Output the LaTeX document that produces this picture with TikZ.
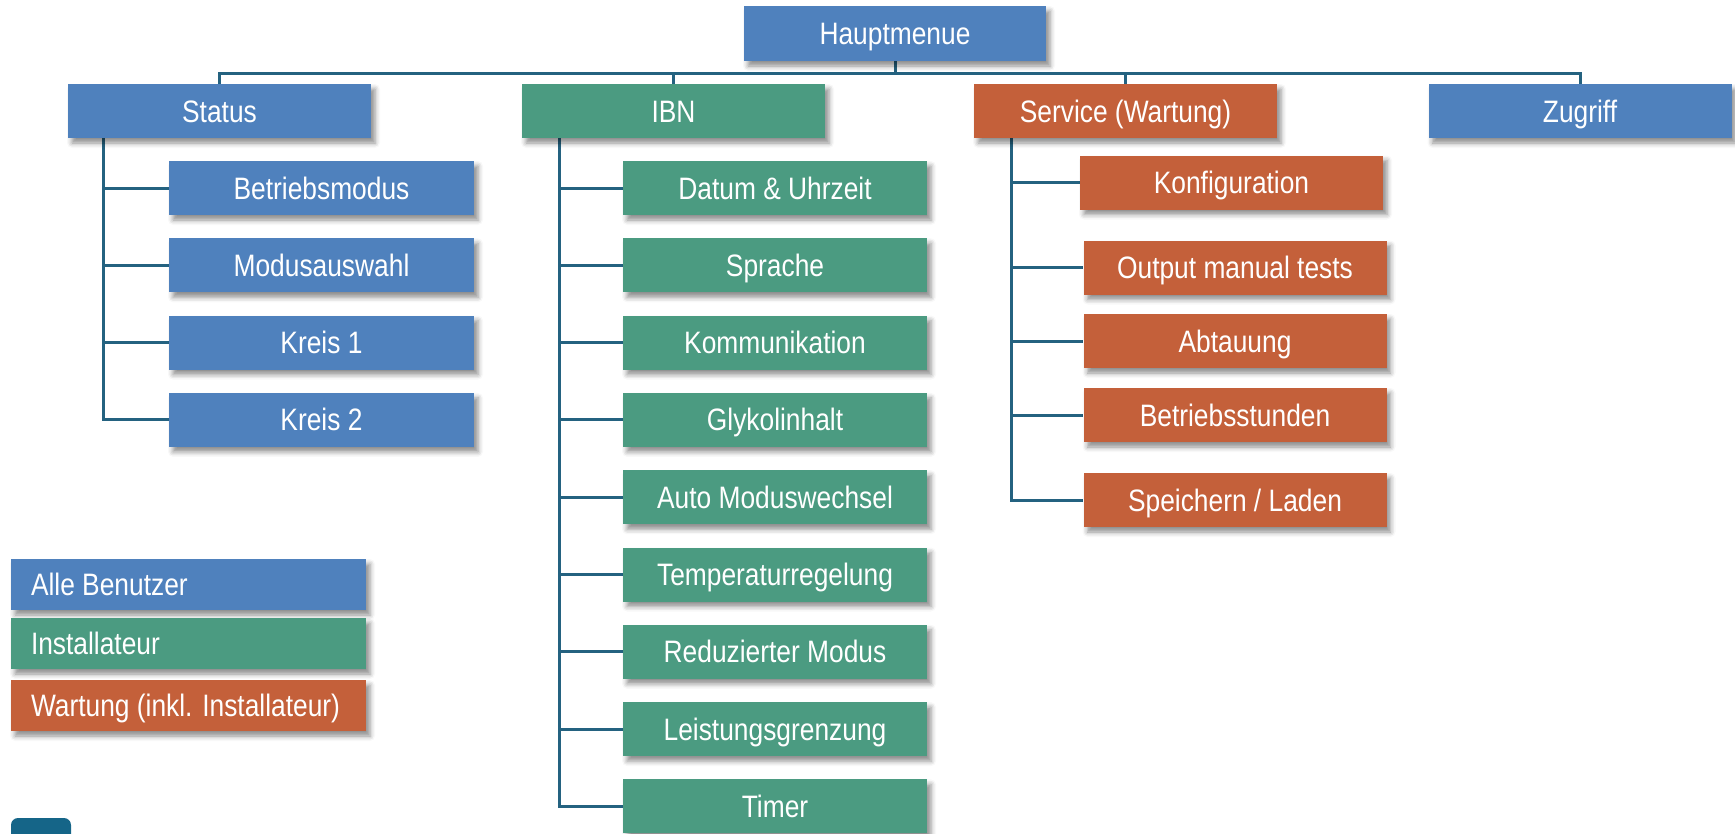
\documentclass[tikz,border=0pt]{standalone}
\usepackage{fontspec}
\setmainfont[FakeStretch=0.85]{Liberation Sans}
\usetikzlibrary{shadows.blur}
\pgfdeclarelayer{background}
\pgfsetlayers{background,main}

\definecolor{menublue}{RGB}{79,129,189}
\definecolor{menugreen}{RGB}{75,155,129}
\definecolor{menuorange}{RGB}{196,96,58}
\definecolor{linecol}{RGB}{36,98,128}
\definecolor{tabcol}{RGB}{21,101,136}

\tikzset{
  box/.style = {
    rectangle,
    text = white,
    minimum width = 303pt,
    minimum height = 54pt,
    inner sep = 0pt,
    text height = 22pt,
    text depth = 0pt,
    font = \fontsize{31pt}{36pt}\selectfont,
    blur shadow = {shadow xshift=4pt, shadow yshift=-5pt,
                   shadow blur radius=5pt, shadow opacity=45}
  },
  userbox/.style = {box, fill = menublue},
  instbox/.style = {box, fill = menugreen},
  servbox/.style = {box, fill = menuorange},
  legend/.style = {box, minimum width = 355pt, minimum height = 51pt},
  conn/.style = {draw = linecol, line width = 3pt}
}
% legend text sits at the left of its box
\newcommand{\legtext}[1]{\makebox[315pt][l]{#1}}

\begin{document}
\begin{tikzpicture}[x=1pt, y=-1pt]
  \useasboundingbox (0,0) rectangle (1735,833);

  % top level
  \node[userbox, minimum width=302pt, minimum height=55pt] (haupt) at (895,33.5) {Hauptmenue};
  \node[userbox] (status) at (219.5,111) {Status};
  \node[instbox] (ibn) at (673.5,111) {IBN};
  \node[servbox] (service) at (1125.5,111) {Service (Wartung)};
  \node[userbox] (zugriff) at (1580,111) {Zugriff};

  % Status
  \foreach \txt [count=\i] in {Betriebsmodus, Modusauswahl, Kreis 1, Kreis 2}
    \node[userbox, minimum width=305pt] (status\i) at (321.5, {188+77.3*(\i-1)}) {\txt};

  % IBN
  \foreach \txt [count=\i] in {Datum \& Uhrzeit, Sprache, Kommunikation, Glykolinhalt,
      Auto Moduswechsel, Temperaturregelung, Reduzierter Modus, Leistungsgrenzung, Timer}
    \node[instbox, minimum width=304pt] (ibn\i) at (775, {188+77.3*(\i-1)}) {\txt};

  % Service
  \node[servbox] (serv1) at (1231.5,182.5) {Konfiguration};
  \foreach \y/\txt [count=\i from 2] in {267.5/Output manual tests, 341/Abtauung,
      415/Betriebsstunden, 500/{Speichern / Laden}}
    \node[servbox] (serv\i) at (1235,\y) {\txt};

  % legend
  \node[legend, fill=menublue] (leg1) at (188.5,584.5) {\legtext{Alle Benutzer}};
  \node[legend, fill=menugreen] (leg2) at (188.5,643.5) {\legtext{Installateur}};
  \node[legend, fill=menuorange] (leg3) at (188.5,705.5) {\legtext{Wartung (inkl. Installateur)}};

  \fill[tabcol, rounded corners=7pt] (11,818) rectangle (71,860);

  \begin{pgfonlayer}{background}
    \foreach \p in {status, ibn, service, zugriff}
      \draw[conn] (haupt.south) -- ++(0,12) -| (\p.north);
    \foreach \i in {1,...,4}
      \draw[conn] ([xshift=36pt]status.south west) |- (status\i.west);
    \foreach \i in {1,...,9}
      \draw[conn] ([xshift=38pt]ibn.south west) |- (ibn\i.west);
    \foreach \i in {1,...,5}
      \draw[conn] ([xshift=38pt]service.south west) |- (serv\i.west);
  \end{pgfonlayer}

\end{tikzpicture}
\end{document}
